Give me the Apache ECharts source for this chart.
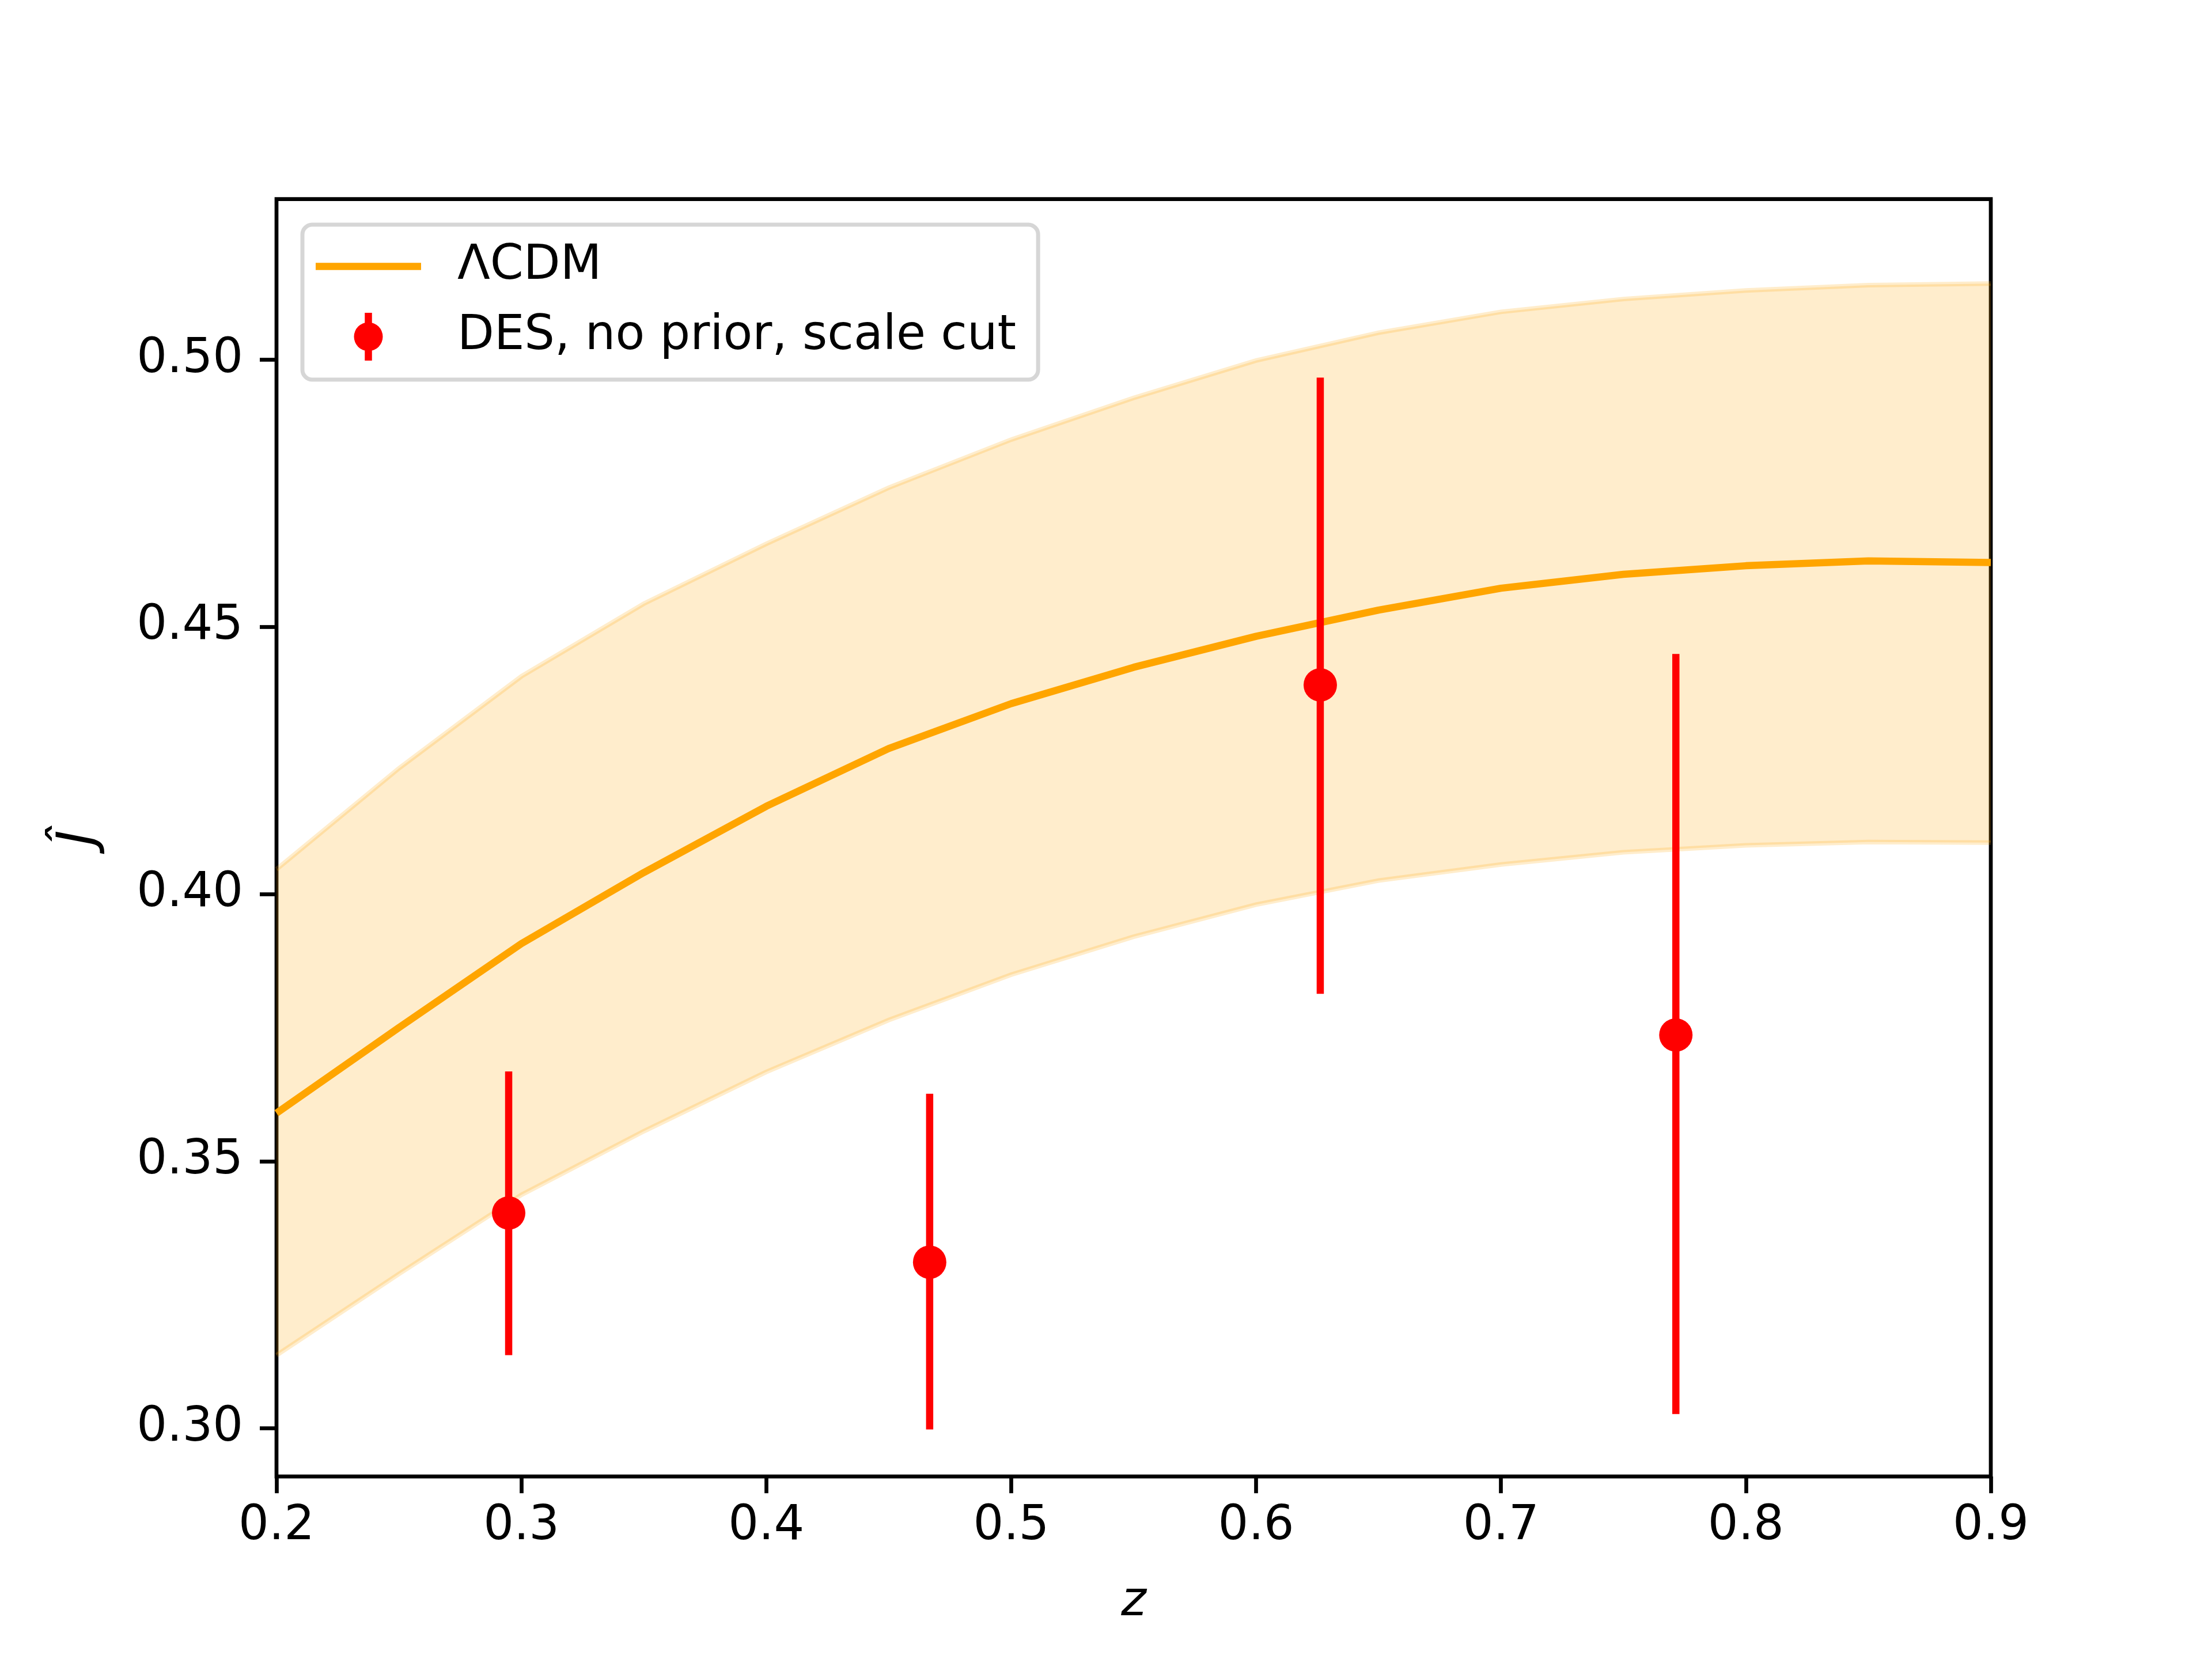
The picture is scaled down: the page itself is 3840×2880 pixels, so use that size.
<!DOCTYPE html>
<html>
<head>
<meta charset="utf-8">
<script src="https://cdn.jsdelivr.net/npm/echarts@6/dist/echarts.min.js"></script>
<style>
  html, body { margin: 0; padding: 0; background: #fff; }
  #chart { width: 3840px; height: 2880px; }
</style>
</head>
<body>
<div id="chart"></div>
<script>
// ΛCDM 預測曲線，z 每 0.05 取一點
const zModel = [0.20, 0.25, 0.30, 0.35, 0.40, 0.45, 0.50, 0.55, 0.60, 0.65, 0.70, 0.75, 0.80, 0.85, 0.90]
const jModel = [0.359, 0.375, 0.3907, 0.404, 0.4164, 0.4272, 0.4356, 0.4424, 0.4482, 0.4531, 0.4572, 0.4598, 0.4614, 0.4623, 0.4620]
const jLow   = [0.3137, 0.3289, 0.3437, 0.3556, 0.3667, 0.3764, 0.3849, 0.3920, 0.3980, 0.4025, 0.4055, 0.4078, 0.4091, 0.4097, 0.4096]
const jHigh  = [0.4046, 0.4235, 0.4407, 0.4543, 0.4655, 0.4760, 0.4850, 0.4928, 0.4998, 0.5050, 0.5089, 0.5113, 0.5129, 0.5139, 0.5142]

// DES 資料點與誤差
const zDes     = [0.2948, 0.4667, 0.6262, 0.7714]
const jDes     = [0.3403, 0.3311, 0.4391, 0.3736]
const jDesLow  = [0.3137, 0.2998, 0.3813, 0.3027]
const jDesHigh = [0.3668, 0.3626, 0.4966, 0.4449]

// 刻度
const xTicks = [0.2, 0.3, 0.4, 0.5, 0.6, 0.7, 0.8, 0.9]
const yTicks = [0.30, 0.35, 0.40, 0.45, 0.50]

const ORANGE = '#ffa500'
const BAND = 'rgba(255,165,0,0.2)'
const FONT = 'DejaVu Sans'

const chart = echarts.init(document.getElementById('chart'))

const axisCommon = {
  type: 'value',
  axisLine: { show: false },
  splitLine: { show: false },
  axisTick: { show: true, inside: false, length: 29, lineStyle: { color: '#000', width: 6.7 } }
}

// 圖例圖示：圓點加誤差線
const errIcon = 'path://M18.75,0H31.25V83H18.75Z M0,41.5A25,25 0 1,1 50,41.5A25,25 0 1,1 0,41.5Z'
const lineIcon = 'path://M0,0H100V6.8H0Z'

// 信賴帶：上下界圍成一個多邊形
const renderBand = (params, api) => {
  if (params.dataIndex !== 0) return null
  const upper = zModel.map((z, i) => api.coord([z, jHigh[i]]))
  const lower = zModel.map((z, i) => api.coord([z, jLow[i]]))
  return {
    type: 'group',
    children: [
      {
        type: 'polygon',
        shape: { points: upper.concat(lower.slice().reverse()) },
        style: { fill: BAND, stroke: 'none' }
      },
      { type: 'polyline', shape: { points: upper }, style: { stroke: BAND, lineWidth: 8, fill: 'none' } },
      { type: 'polyline', shape: { points: lower }, style: { stroke: BAND, lineWidth: 8, fill: 'none' } }
    ]
  }
}

const option = {
  animation: false,
  backgroundColor: '#fff',
  textStyle: { fontFamily: FONT },
  grid: {
    left: 480, right: 384, top: 345.6, bottom: 316.8,
    show: true, borderColor: '#000', borderWidth: 6.7, backgroundColor: 'transparent'
  },
  legend: {
    orient: 'vertical',
    left: 525, top: 390,
    padding: [31, 38, 33, 23],
    itemWidth: 183, itemHeight: 83, itemGap: 39,
    backgroundColor: 'rgba(255,255,255,0.8)',
    borderColor: 'rgba(204,204,204,0.8)', borderWidth: 7, borderRadius: 17,
    textStyle: { fontSize: 83, color: '#000', fontFamily: FONT, padding: [0, 0, 0, 58] },
    data: [
      { name: 'ΛCDM', icon: lineIcon },
      { name: 'DES, no prior, scale cut', icon: errIcon }
    ]
  },
  xAxis: {
    ...axisCommon,
    min: 0.2, max: 0.9,
    axisTick: { ...axisCommon.axisTick, customValues: xTicks },
    axisLabel: {
      customValues: xTicks, margin: 46, fontSize: 83, color: '#000', fontFamily: FONT,
      formatter: v => v.toFixed(1)
    },
    name: 'z', nameLocation: 'middle', nameGap: 178,
    nameTextStyle: { fontSize: 83, fontStyle: 'italic', color: '#000', fontFamily: FONT }
  },
  yAxis: {
    ...axisCommon,
    min: 0.291, max: 0.530,
    axisTick: { ...axisCommon.axisTick, customValues: yTicks },
    axisLabel: {
      customValues: yTicks, margin: 58, fontSize: 83, color: '#000', fontFamily: FONT,
      formatter: v => v.toFixed(2)
    },
    name: 'Ĵ', nameLocation: 'middle', nameGap: 295,
    nameTextStyle: { fontSize: 90, fontStyle: 'italic', color: '#000', fontFamily: FONT }
  },
  series: [
    {
      name: 'band', type: 'custom', silent: true,
      data: zModel.map((z, i) => [z, jLow[i], jHigh[i]]),
      encode: { x: 0, y: [1, 2] },
      renderItem: renderBand,
      z: 1
    },
    {
      name: 'ΛCDM', type: 'line', symbol: 'none', color: ORANGE,
      data: zModel.map((z, i) => [z, jModel[i]]),
      lineStyle: { color: ORANGE, width: 12.5 },
      itemStyle: { color: ORANGE },
      z: 2
    },
    {
      name: 'DES, no prior, scale cut', type: 'custom', color: 'red',
      data: zDes.map((z, i) => [z, jDesLow[i], jDesHigh[i]]),
      encode: { x: 0, y: [1, 2] },
      renderItem: (params, api) => {
        const lo = api.coord([api.value(0), api.value(1)])
        const hi = api.coord([api.value(0), api.value(2)])
        return {
          type: 'line',
          shape: { x1: lo[0], y1: lo[1], x2: hi[0], y2: hi[1] },
          style: { stroke: 'red', lineWidth: 12.5 }
        }
      },
      z: 3
    },
    {
      name: 'DES, no prior, scale cut', type: 'scatter', color: 'red',
      symbol: 'circle', symbolSize: 58,
      data: zDes.map((z, i) => [z, jDes[i]]),
      itemStyle: { color: 'red', opacity: 1 },
      z: 4
    }
  ]
}

chart.setOption(option)
</script>
</body>
</html>
